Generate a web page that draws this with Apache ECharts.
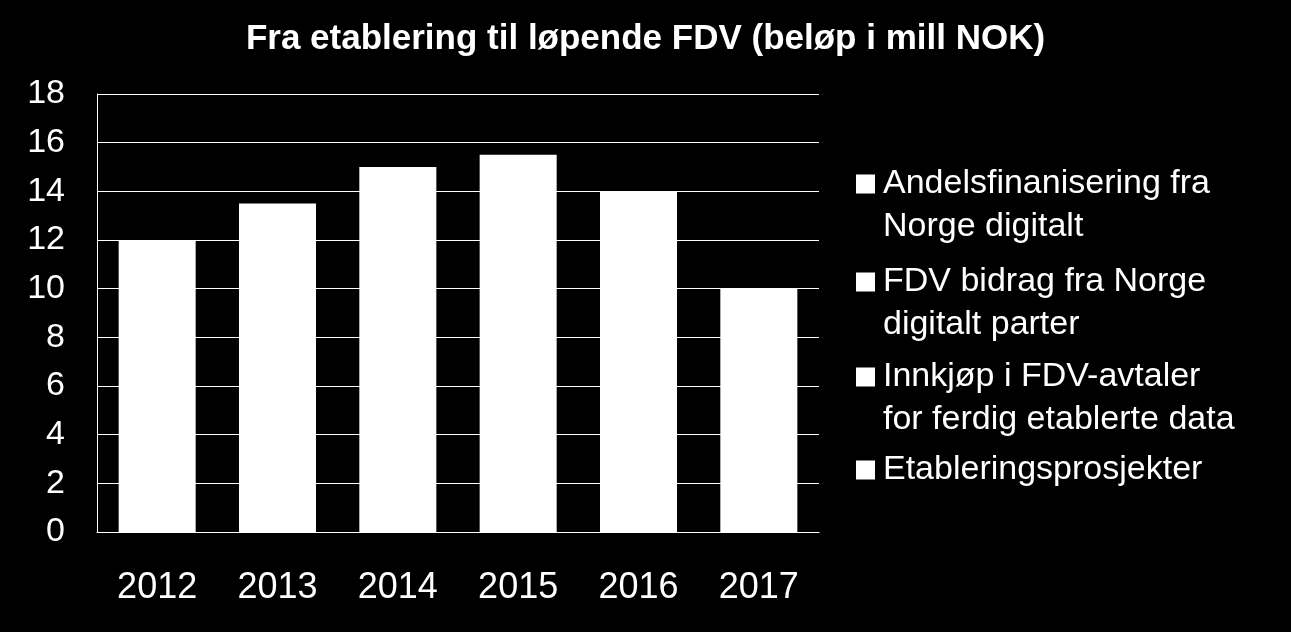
<!DOCTYPE html>
<html>
<head>
<meta charset="utf-8">
<script src="https://cdn.jsdelivr.net/npm/echarts@6/dist/echarts.min.js"></script>
<style>
  html, body { margin: 0; padding: 0; background: #000; }
  #chart { width: 1291px; height: 632px; }
</style>
</head>
<body>
<div id="chart"></div>
<script>
const titleText = 'Fra etablering til løpende FDV (beløp i mill NOK)';
const categories = ['2012', '2013', '2014', '2015', '2016', '2017'];
const seriesNames = [
  'Andelsfinanisering fra\nNorge digitalt',
  'FDV bidrag fra Norge\ndigitalt parter',
  'Innkjøp i FDV-avtaler\nfor ferdig etablerte data',
  'Etableringsprosjekter'
];
// All segments are drawn in white, so only the stacked totals are readable.
const totals = [12, 13.5, 15, 15.5, 14, 10];
const seriesValues = [totals, [], [], []];
const yTicks = { min: 0, max: 18, interval: 2 };

const FONT = '"Liberation Sans", Arial, sans-serif';
const LEGEND_FS = 34, LEGEND_LH = 43;
const legendCenters = [184, 282, 377, 470];

const legends = seriesNames.map((name, i) => {
  const lines = name.split('\n').length;
  // a blank leading line keeps the marker level with the first text line
  const shown = lines > 1 ? ' \n' + name : name;
  const boxH = (lines > 1 ? lines + 1 : 1) * LEGEND_LH;
  return {
    orient: 'vertical',
    left: 856,
    top: legendCenters[i] - boxH / 2,
    padding: 0,
    icon: 'rect',
    itemWidth: 19,
    itemHeight: 19,
    selectedMode: false,
    data: [name],
    formatter: () => shown,
    textStyle: {
      color: '#fff',
      fontSize: LEGEND_FS,
      lineHeight: LEGEND_LH,
      fontFamily: FONT,
      padding: [0, 0, 0, 3]
    }
  };
});

const chart = echarts.init(document.getElementById('chart'), null, { renderer: 'canvas' });
chart.setOption({
  backgroundColor: '#000',
  animation: false,
  title: {
    text: titleText,
    left: 'center',
    top: 17,
    textStyle: { color: '#fff', fontSize: 35, fontWeight: 'bold', fontFamily: FONT }
  },
  legend: legends,
  grid: { left: 97, right: 472, top: 94, bottom: 100, containLabel: false },
  xAxis: {
    type: 'category',
    data: categories,
    axisLine: { show: true, lineStyle: { color: '#fff', width: 1 } },
    axisTick: { show: false },
    axisLabel: { color: '#fff', fontSize: 36, fontFamily: FONT, margin: 38 }
  },
  yAxis: {
    type: 'value',
    min: yTicks.min,
    max: yTicks.max,
    interval: yTicks.interval,
    axisLine: { show: true, lineStyle: { color: '#fff', width: 1 } },
    axisTick: { show: false },
    splitLine: { show: true, lineStyle: { color: '#fff', width: 1 } },
    axisLabel: { color: '#fff', fontSize: 34, fontFamily: FONT, margin: 32 }
  },
  series: seriesNames.map((name, i) => ({
    name: name,
    type: 'bar',
    stack: 'total',
    data: seriesValues[i],
    barCategoryGap: '36%',
    itemStyle: { color: '#fff' }
  }))
});
</script>
</body>
</html>
